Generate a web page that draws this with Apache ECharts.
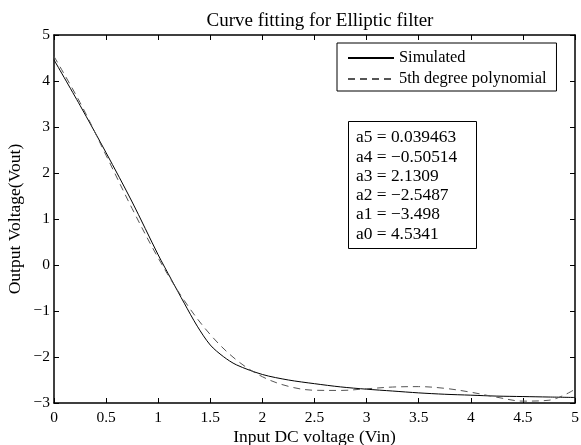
<!DOCTYPE html>
<html>
<head>
<meta charset="utf-8">
<script src="https://cdn.jsdelivr.net/npm/echarts@6/dist/echarts.min.js"></script>
<style>
html,body{margin:0;padding:0;background:#fff;}
#chart{width:581px;height:445px;}
</style>
</head>
<body>
<div id="chart"></div>
<script>
// ---- data ----
var simX = [0, 0.25, 0.5, 0.75, 1, 1.125, 1.25, 1.375, 1.5, 1.625, 1.75, 2, 2.25, 2.5, 2.75, 3, 3.25, 3.5, 3.75, 4, 4.25, 4.5, 4.75, 5];
var simulated = [4.46, 3.47, 2.44, 1.37, 0.22, -0.31, -0.83, -1.33, -1.74, -1.99, -2.17, -2.38, -2.50, -2.58, -2.65, -2.70, -2.74, -2.78, -2.81, -2.83, -2.85, -2.86, -2.87, -2.88];
var fitX = [0, 0.25, 0.5, 0.75, 1, 1.25, 1.5, 1.75, 2, 2.25, 2.5, 2.75, 3, 3.25, 3.5, 3.75, 4, 4.25, 4.5, 4.75, 5];
var polyFit = [4.534, 3.532, 2.384, 1.226, 0.153, -0.772, -1.513, -2.063, -2.429, -2.638, -2.723, -2.727, -2.691, -2.653, -2.644, -2.681, -2.765, -2.874, -2.959, -2.940, -2.702];
var seriesNames = ['Simulated', '5th degree polynomial'];
var coefNames = ['a5', 'a4', 'a3', 'a2', 'a1', 'a0'];
var coefValues = ['0.039463', '\u22120.50514', '2.1309', '\u22122.5487', '\u22123.498', '4.5341'];
var titleText = 'Curve fitting for Elliptic filter';
var xName = 'Input DC voltage (Vin)';
var yName = 'Output Voltage(Vout)';

var FONT = "'Liberation Serif','Times New Roman','DejaVu Serif',serif";
function pairs(xs, ys) { return xs.map(function (x, i) { return [x, ys[i]]; }); }
function minusFmt(v) { return String(v).replace('-', '\u2212'); }

var chart = echarts.init(document.getElementById('chart'), null, {renderer: 'canvas'});
var axisLineStyle = {onZero: false, lineStyle: {color: '#000', width: 1.5}};
var tickStyle = {show: true, inside: true, length: 5, lineStyle: {color: '#000', width: 1}};

var coefText = coefNames.map(function (n, i) { return n + ' = ' + coefValues[i]; }).join('\n');

chart.setOption({
  animation: false,
  backgroundColor: '#fff',
  textStyle: {fontFamily: FONT, color: '#000'},
  title: {
    text: titleText, left: 315, top: 7, textAlign: 'center',
    textStyle: {fontFamily: FONT, fontWeight: 'normal', fontSize: 19, color: '#000'}
  },
  grid: {left: 54, right: 6, top: 35, bottom: 42, containLabel: false, outerBoundsMode: 'none'},
  legend: {
    orient: 'vertical', left: 337, top: 43,
    data: seriesNames,
    backgroundColor: '#fff', borderColor: '#000', borderWidth: 1, borderRadius: 0,
    padding: [7, 10, 4, 10], itemGap: 5, itemWidth: 46, itemHeight: 14,
    itemStyle: {opacity: 0},
    textStyle: {fontFamily: FONT, fontSize: 16.4, color: '#000'}
  },
  xAxis: [{
    type: 'value', min: 0, max: 5, interval: 0.5, position: 'bottom',
    name: xName, nameLocation: 'middle', nameGap: 25, nameMoveOverlap: false,
    nameTextStyle: {fontFamily: FONT, fontSize: 17.5, color: '#000'},
    axisLine: axisLineStyle, axisTick: tickStyle, splitLine: {show: false},
    axisLabel: {fontFamily: FONT, fontSize: 15.5, color: '#000', margin: 7, formatter: minusFmt}
  }, {
    type: 'value', min: 0, max: 5, interval: 0.5, position: 'top',
    axisLine: axisLineStyle, axisTick: tickStyle, splitLine: {show: false},
    axisLabel: {show: false}
  }],
  yAxis: [{
    type: 'value', min: -3, max: 5, interval: 1, position: 'left',
    name: yName, nameLocation: 'middle', nameGap: 30, nameMoveOverlap: false,
    nameTextStyle: {fontFamily: FONT, fontSize: 17.5, color: '#000'},
    axisLine: axisLineStyle, axisTick: tickStyle, splitLine: {show: false},
    axisLabel: {fontFamily: FONT, fontSize: 15.5, color: '#000', margin: 4, formatter: minusFmt}
  }, {
    type: 'value', min: -3, max: 5, interval: 1, position: 'right',
    axisLine: axisLineStyle, axisTick: tickStyle, splitLine: {show: false},
    axisLabel: {show: false}
  }],
  series: [{
    name: seriesNames[0], type: 'line', data: pairs(simX, simulated),
    symbol: 'none', smooth: 0.3, color: '#000',
    lineStyle: {color: '#000', width: 1}
  }, {
    name: seriesNames[1], type: 'line', data: pairs(fitX, polyFit),
    symbol: 'none', smooth: 0.35, color: '#555',
    lineStyle: {color: '#555', width: 1, type: [7, 5]}
  }],
  graphic: [{
    type: 'group', left: 348, top: 121,
    children: [{
      type: 'rect', shape: {x: 0.5, y: 0.5, width: 128, height: 127},
      style: {fill: '#fff', stroke: '#000', lineWidth: 1}
    }, {
      type: 'text', x: 8, y: 7,
      style: {text: coefText, font: '17.4px ' + FONT, fill: '#000', lineHeight: 19.3}
    }]
  }]
});
</script>
</body>
</html>
